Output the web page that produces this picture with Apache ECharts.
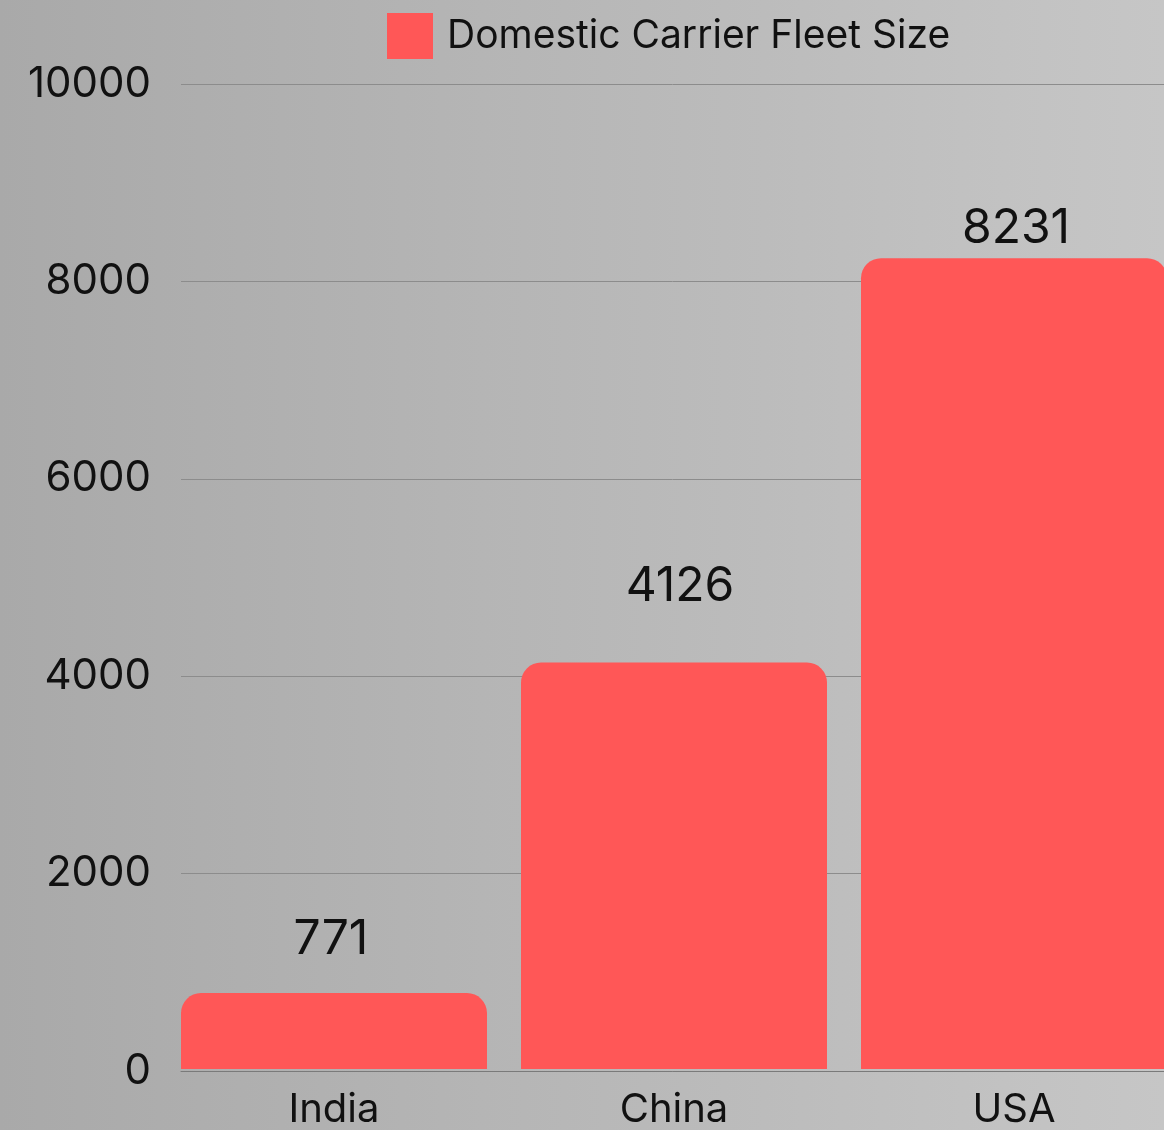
<!DOCTYPE html>
<html>
<head>
<meta charset="utf-8">
<script src="https://cdn.jsdelivr.net/npm/echarts@6/dist/echarts.min.js"></script>
<style>
html,body{margin:0;padding:0;width:1164px;height:1130px;overflow:hidden;}
body{background:linear-gradient(to right,#a9a9a9 0%,#b6b6b6 45%,#c6c6c6 100%);}
#chart{width:1184px;height:1130px;}
</style>
</head>
<body>
<div id="chart"></div>
<script>
const categories = ['India', 'China', 'USA'];
const seriesName = 'Domestic Carrier Fleet Size';
const fleetSize = [771, 4126, 8231];
const yTicks = [0, 2000, 4000, 6000, 8000, 10000];
// label placement tweaks above each bar (style only)
const labelGap = [29, 52, 6];
const labelShiftX = [-3, 6, 2];

const FONT = 'Inter';
const chart = echarts.init(document.getElementById('chart'), null, {renderer: 'canvas'});
const yMin = yTicks[0], yMax = yTicks[yTicks.length - 1], yStep = yTicks[1] - yTicks[0];

chart.setOption({
  backgroundColor: 'transparent',
  animation: false,
  legend: {
    show: true,
    left: 387,
    top: 13,
    padding: 0,
    icon: 'rect',
    itemWidth: 46,
    itemHeight: 46,
    textStyle: {fontFamily: FONT, fontSize: 39, color: '#111', padding: [6, 0, 0, 9]},
    data: [seriesName]
  },
  grid: [
    {left: 164, right: 0, top: 84, bottom: 59},
    {left: 181, right: 20, top: 84, bottom: 59}
  ],
  xAxis: [
    {
      type: 'category', gridIndex: 0, data: categories,
      axisLine: {show: false}, axisTick: {show: false},
      axisLabel: {fontFamily: FONT, fontSize: 40, color: '#111', margin: 21}
    },
    {
      type: 'category', gridIndex: 1, data: [''],
      axisLine: {show: true, lineStyle: {color: '#7a7a7a', width: 1}},
      axisTick: {show: false}, axisLabel: {show: false}
    }
  ],
  yAxis: [
    {
      type: 'value', gridIndex: 0, min: yMin, max: yMax, interval: yStep,
      show: false, splitLine: {show: false}
    },
    {
      type: 'value', gridIndex: 1, min: yMin, max: yMax, interval: yStep,
      axisLine: {show: false}, axisTick: {show: false},
      axisLabel: {fontFamily: FONT, fontSize: 42, color: '#111', margin: 30,
                  formatter: v => String(v)},
      splitLine: {show: true, lineStyle: {color: '#8c8c8c', width: 1}}
    }
  ],
  series: [{
    name: seriesName,
    type: 'bar',
    xAxisIndex: 0, yAxisIndex: 0,
    data: fleetSize.map((v, i) => ({value: v, label: {distance: labelGap[i], offset: [labelShiftX[i], 0]}})),
    barWidth: 306,
    itemStyle: {color: '#ff5757', borderRadius: [20, 20, 0, 0]},
    label: {show: true, position: 'top', fontFamily: FONT, fontSize: 48, color: '#111'},
    z: 3
  }]
});
</script>
</body>
</html>
